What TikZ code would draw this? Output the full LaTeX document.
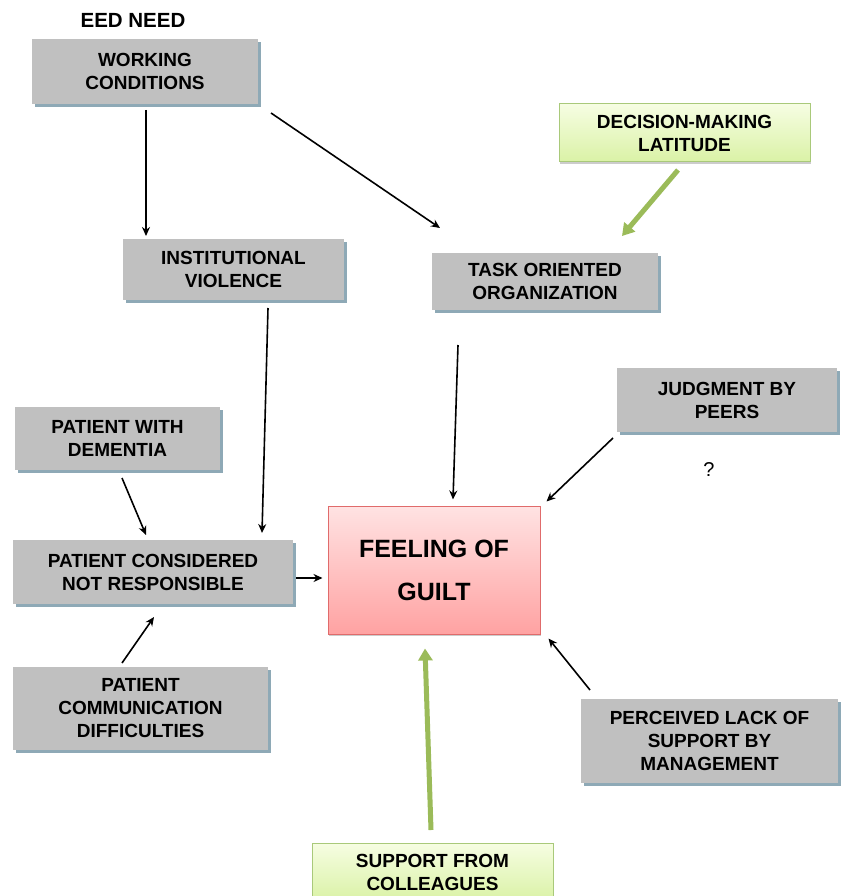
\documentclass[tikz,border=0pt]{standalone}
\usepackage{fontspec}
\setmainfont{Liberation Sans}
\usetikzlibrary{arrows.meta,shadows}
\definecolor{boxgray}{HTML}{C0C0C0}
\definecolor{shadowblue}{HTML}{8EA9B6}
\definecolor{greenarrow}{HTML}{9BBB59}
\definecolor{greentop}{HTML}{F6FDE2}
\definecolor{greenbot}{HTML}{DAF2A6}
\definecolor{greenborder}{HTML}{A9C97A}
\definecolor{pinktop}{HTML}{FFE3E3}
\definecolor{pinkbot}{HTML}{FFA2A2}
\definecolor{pinkborder}{HTML}{E06B6B}
\tikzset{
  boxtext/.style={font=\bfseries\fontsize{19}{23}\selectfont, align=center, inner sep=0pt, outer sep=0pt},
  graybox/.style={boxtext, fill=boxgray, rectangle,
    drop shadow={shadow xshift=3pt, shadow yshift=-3pt, fill=shadowblue, opacity=1}},
  greenbox/.style={boxtext, rectangle, draw=greenborder, line width=1pt, top color=greentop, bottom color=greenbot,
    drop shadow={shadow xshift=1pt, shadow yshift=-2pt, fill=black, opacity=0.2}},
  pinkbox/.style={font=\bfseries\fontsize{25}{43}\selectfont, align=center, inner sep=0pt, rectangle,
    draw=pinkborder, line width=1pt, top color=pinktop, bottom color=pinkbot,
    drop shadow={shadow xshift=1pt, shadow yshift=-2pt, fill=black, opacity=0.2}},
  arr/.style={line width=1.6pt, -{Stealth[length=9pt,width=8pt]}},
  garr/.style={line width=5pt, greenarrow, -{Triangle[length=12pt,width=14pt]}}
}
\begin{document}
\begin{tikzpicture}[x=1pt,y=-1pt]
\clip (0,0) rectangle (843,896);
\fill[white] (0,0) rectangle (843,896);

\node[font=\bfseries\fontsize{20.5}{23}\selectfont, inner sep=0pt] (eed) at (133,20) {EED NEED};

\node[graybox, minimum width=226pt, minimum height=65pt] (wc) at (145,71.5) {WORKING\\CONDITIONS};
\node[greenbox, minimum width=251pt, minimum height=58pt] (dml) at (684.5,133) {DECISION-MAKING\\LATITUDE};
\node[graybox, minimum width=221pt, minimum height=61pt] (iv) at (233.5,269.5) {INSTITUTIONAL\\VIOLENCE};
\node[graybox, minimum width=226pt, minimum height=57pt] (too) at (545,281.5) {TASK ORIENTED\\ORGANIZATION};
\node[graybox, minimum width=220pt, minimum height=64pt] (jbp) at (727,400) {JUDGMENT BY\\PEERS};
\node[font=\fontsize{20}{23}\selectfont, inner sep=0pt] (q) at (709,470) {?};
\node[graybox, minimum width=205pt, minimum height=63pt] (pwd) at (117.5,438.5) {PATIENT WITH\\DEMENTIA};
\node[graybox, minimum width=280pt, minimum height=64pt] (pcnr) at (153,572) {PATIENT CONSIDERED\\NOT RESPONSIBLE};
\node[pinkbox, minimum width=212pt, minimum height=128pt] (fog) at (434,570) {FEELING OF\\GUILT};
\node[graybox, minimum width=255pt, minimum height=83pt] (pcd) at (140.5,708.5) {PATIENT\\COMMUNICATION\\DIFFICULTIES};
\node[graybox, minimum width=257pt, minimum height=84pt] (plsm) at (709.5,741) {PERCEIVED LACK OF\\SUPPORT BY\\MANAGEMENT};
\node[greenbox, minimum width=241pt, minimum height=58pt] (sfc) at (432.5,872) {SUPPORT FROM\\COLLEAGUES};

\draw[arr] ([shift={(1,6)}]wc.south) -- ([shift={(-87.5,-3)}]iv.north);
\draw[arr] ([shift={(13,9)}]wc.south east) -- ([shift={(8,-25)}]too.north west);
\draw[garr] ([shift={(-6.5,8)}]dml.south) -- ([shift={(77,-17)}]too.north);
\draw[arr] ([shift={(34.5,8)}]iv.south) -- ([shift={(109,-7)}]pcnr.north);
\draw[arr] ([shift={(-87,35)}]too.south) -- ([shift={(19,-6)}]fog.north);
\draw[arr] ([shift={(-4,6)}]jbp.south west) -- ([shift={(6,-4)}]fog.north east);
\draw[arr] ([shift={(4.5,8)}]pwd.south) -- ([shift={(-7,-5)}]pcnr.north);
\draw[arr] ([shift={(3,6)}]pcnr.east) -- ([shift={(-5,8)}]fog.west);
\draw[arr] ([shift={(-18.5,-4)}]pcd.north) -- ([shift={(1,13)}]pcnr.south);
\draw[arr] ([shift={(9,-9)}]plsm.north west) -- ([shift={(8,4)}]fog.south east);
\draw[garr] ([shift={(-1.5,-13)}]sfc.north) -- ([shift={(-9,14)}]fog.south);
\end{tikzpicture}
\end{document}
